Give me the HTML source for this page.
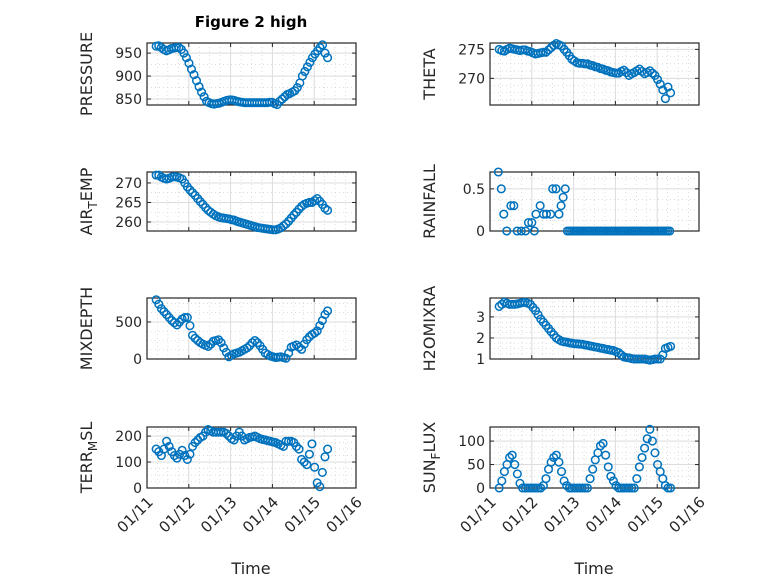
<!DOCTYPE html>
<html><head><meta charset="utf-8">
<style>
body{margin:0;background:#fff;}
svg{display:block;font-family:"DejaVu Sans","Liberation Sans",sans-serif;}
</style></head>
<body>
<svg id="fig" width="778" height="583" viewBox="0 0 778 583"></svg>
<script>
// ---- data ----
const startDay = 0.22;
const endDay = 4.32;
const pressure = [965,966,962,958,955,957,960,961,962,962,958,950,940,928,915,903,890,877,865,855,845,842,840,839,840,841,843,845,847,848,848,847,845,844,843,842,842,842,842,842,842,842,842,842,842,843,843,840,838,845,850,855,860,862,865,868,875,885,900,910,920,930,940,948,955,962,968,950,940];
const airTemp = [272,272,271.5,271.2,271,271.2,271.5,271.6,271.5,271.3,271,270,269,268.2,267.5,266.8,266,265.2,264.5,263.7,263,262.5,262,261.6,261.3,261.1,261,260.9,260.8,260.6,260.5,260.2,260,259.8,259.6,259.4,259.2,259,258.8,258.6,258.5,258.4,258.3,258.2,258.1,258,258,258.2,258.5,259,259.5,260.2,261,261.8,262.5,263.3,264,264.5,264.8,265,265,265.5,266,265.3,264.5,263.5,263];
const mixDepth = [800,740,680,640,600,560,520,490,460,500,540,560,560,450,320,280,250,220,200,185,170,200,240,250,260,220,150,90,30,50,70,80,90,110,130,150,180,220,250,220,180,130,80,60,40,30,20,25,30,20,10,80,160,175,190,160,130,200,260,300,330,350,380,450,520,600,650];
const terrMsl = [150,140,125,150,180,160,140,125,115,130,145,125,110,130,160,175,185,195,200,215,225,220,215,215,215,215,215,210,200,190,185,200,215,200,185,190,195,197,200,195,190,187,185,182,180,177,175,170,165,160,180,180,180,175,160,150,110,100,90,130,170,80,20,5,60,120,150];
const theta = [275,274.8,274.7,275,275.2,275.1,275,274.9,274.8,274.9,274.9,274.7,274.6,274.4,274.2,274.3,274.4,274.5,274.5,274.9,275.3,275.7,276,275.8,275.6,275,274.5,273.9,273.3,273,272.7,272.6,272.6,272.5,272.5,272.3,272.2,272,271.9,271.7,271.6,271.4,271.3,271.1,271,270.9,270.9,271.2,271.4,271,270.5,270.8,271,271.3,271.6,271.2,270.8,271,271.3,270.9,270.5,269.8,269,268,266.5,268.5,267.5];
const h2oMix = [3.5,3.6,3.7,3.65,3.6,3.6,3.6,3.62,3.65,3.68,3.7,3.65,3.6,3.45,3.3,3.1,2.9,2.75,2.6,2.45,2.3,2.15,2.0,1.92,1.85,1.82,1.8,1.77,1.75,1.73,1.72,1.71,1.7,1.67,1.65,1.62,1.6,1.57,1.55,1.52,1.5,1.47,1.45,1.42,1.4,1.35,1.3,1.2,1.1,1.07,1.05,1.02,1.0,1.0,1.0,1.0,1.0,0.97,0.95,0.97,1.0,1.0,1.0,1.2,1.5,1.55,1.6];
const sunFlux = [0,15,35,50,65,70,50,30,10,0,0,0,0,0,0,0,0,5,20,40,55,65,70,55,35,15,5,0,0,0,0,0,0,0,0,20,40,60,75,90,95,70,45,25,15,5,0,0,0,0,0,0,0,20,45,65,85,105,125,100,75,50,35,20,5,0,0];
const rainT = [0.2,0.27,0.33,0.4,0.5,0.57,0.65,0.75,0.85,0.92,1.0,1.06,1.1,1.2,1.28,1.35,1.45,1.5,1.58,1.65,1.7,1.75,1.8,1.85,1.9,1.95,2.0,2.05,2.1,2.15,2.2,2.25,2.3,2.35,2.4,2.45,2.5,2.55,2.6,2.65,2.7,2.75,2.8,2.85,2.9,2.95,3.0,3.05,3.1,3.15,3.2,3.25,3.3,3.35,3.4,3.45,3.5,3.55,3.6,3.65,3.7,3.75,3.8,3.85,3.9,3.95,4.0,4.05,4.1,4.15,4.2,4.25,4.3];
const rainV = [0.7,0.5,0.2,0,0.3,0.3,0,0,0,0.1,0.1,0,0.2,0.3,0.2,0.2,0.2,0.5,0.5,0.2,0.3,0.4,0.5,0,0,0,0,0,0,0,0,0,0,0,0,0,0,0,0,0,0,0,0,0,0,0,0,0,0,0,0,0,0,0,0,0,0,0,0,0,0,0,0,0,0,0,0,0,0,0,0,0,0];
const xTickLabels = ["01/11","01/12","01/13","01/14","01/15","01/16"];

const NS="http://www.w3.org/2000/svg";
const svg=document.getElementById('fig');
function mk(tag,attrs,parent){const e=document.createElementNS(NS,tag);for(const k in attrs)e.setAttribute(k,attrs[k]);(parent||svg).appendChild(e);return e;}
function timesFor(arr){const n=arr.length;return arr.map((_,i)=>startDay+i*(endDay-startDay)/(n-1));}

const panels=[
 {name:'pressure',x0:147,x1:356,y0:43,y1:105,ymin:837,ymax:972,ticks:[850,900,950],minor:25,label:['PRESSURE'],vals:pressure,t:timesFor(pressure),xt:false},
 {name:'air-temp',x0:147,x1:356,y0:172,y1:231,ymin:257.7,ymax:272.8,ticks:[260,265,270],minor:2.5,label:['AIR','T','EMP'],vals:airTemp,t:timesFor(airTemp),xt:false},
 {name:'mixdepth',x0:147,x1:356,y0:298,y1:359,ymin:0,ymax:824,ticks:[0,500],minor:125,label:['MIXDEPTH'],vals:mixDepth,t:timesFor(mixDepth),xt:false},
 {name:'terr-msl',x0:147,x1:356,y0:427,y1:488,ymin:0,ymax:235,ticks:[0,100,200],minor:25,label:['TERR','M','SL'],vals:terrMsl,t:timesFor(terrMsl),xt:true},
 {name:'theta',x0:490,x1:699,y0:43,y1:105,ymin:265.4,ymax:276.1,ticks:[270,275],minor:1.25,label:['THETA'],vals:theta,t:timesFor(theta),xt:false},
 {name:'rainfall',x0:490,x1:699,y0:172,y1:231,ymin:0,ymax:0.7,ticks:[0,0.5],minor:0.125,label:['RAINFALL'],vals:rainV,t:rainT,xt:false},
 {name:'h2omixra',x0:490,x1:699,y0:298,y1:359,ymin:1,ymax:3.9,ticks:[1,2,3],minor:0.25,label:['H2OMIXRA'],vals:h2oMix,t:timesFor(h2oMix),xt:false},
 {name:'sun-flux',x0:490,x1:699,y0:427,y1:488,ymin:0,ymax:130,ticks:[0,50,100],minor:12.5,label:['SUN','F','LUX'],vals:sunFlux,t:timesFor(sunFlux),xt:true},
];

panels.forEach(p=>{
  const g=mk('g',{});
  
  
  const X=t=>p.x0+(t/5)*(p.x1-p.x0);
  const Y=v=>p.y1-(v-p.ymin)/(p.ymax-p.ymin)*(p.y1-p.y0);
  for(let d=0;d<5;d++)for(let q=1;q<4;q++){const x=X(d+q/4);mk('line',{x1:x,x2:x,y1:p.y0,y2:p.y1,stroke:'#c8c8c8','stroke-width':0.6,'stroke-dasharray':'1 3'},g);}
  const mstart=Math.ceil(p.ymin/p.minor)*p.minor;
  for(let v=mstart;v<=p.ymax;v+=p.minor){const y=Y(v);mk('line',{x1:p.x0,x2:p.x1,y1:y,y2:y,stroke:'#c8c8c8','stroke-width':0.6,'stroke-dasharray':'1 3'},g);}
  for(let d=1;d<5;d++){const x=X(d);mk('line',{x1:x,x2:x,y1:p.y0,y2:p.y1,stroke:'#dcdcdc','stroke-width':1},g);}
  p.ticks.forEach(v=>{const y=Y(v);mk('line',{x1:p.x0,x2:p.x1,y1:y,y2:y,stroke:'#dcdcdc','stroke-width':1},g);
    mk('line',{x1:p.x0,x2:p.x0+4,y1:y,y2:y,stroke:'#262626'},g);mk('line',{x1:p.x1,x2:p.x1-4,y1:y,y2:y,stroke:'#262626'},g);
    const tl=mk('text',{x:p.x0-5,y:y+5,'text-anchor':'end','font-size':14,fill:'#262626'},g);tl.textContent=String(v);
    
    
  });
  for(let d=0;d<=5;d++){const x=X(d);mk('line',{x1:x,x2:x,y1:p.y1,y2:p.y1-4,stroke:'#262626'},g);mk('line',{x1:x,x2:x,y1:p.y0,y2:p.y0+4,stroke:'#262626'},g);
    if(p.xt){const tx=x+7, ty=p.y1+15;const tl=mk('text',{x:tx,y:ty,'text-anchor':'end','font-size':15,fill:'#262626',transform:`rotate(-45 ${tx} ${ty})`},g);tl.textContent=xTickLabels[d];
      
      }
  }
  mk('rect',{x:p.x0,y:p.y0,width:p.x1-p.x0,height:p.y1-p.y0,fill:'none',stroke:'#262626','stroke-width':1.2},g);
  p.vals.forEach((v,i)=>{const c=mk('circle',{cx:X(p.t[i]),cy:Y(v),r:3.8,fill:'none',stroke:'#0072BD','stroke-width':1.5},g);
    
    });
  const lx=p.x0-55, ly=(p.y0+p.y1)/2;
  const yl=mk('text',{x:lx,y:ly,'text-anchor':'middle','font-size':16,fill:'#262626',transform:`rotate(-90 ${lx} ${ly})`},g);
  
  
  if(p.label.length===1){yl.textContent=p.label[0];}
  else{const a=mk('tspan',{},yl);a.textContent=p.label[0];const b=mk('tspan',{'font-size':12,dy:5},yl);b.textContent=p.label[1];const c=mk('tspan',{dy:-5},yl);c.textContent=p.label[2];}
});
const title=mk('text',{x:251,y:27,'text-anchor':'middle','font-size':15,'font-weight':'bold',fill:'#000'});
title.textContent='Figure 2 high';


[[251,'left'],[594,'right']].forEach(([x,s])=>{const t=mk('text',{x:x,y:574,'text-anchor':'middle','font-size':16,fill:'#262626'});t.textContent='Time';
  
  });
</script>
</body></html>
